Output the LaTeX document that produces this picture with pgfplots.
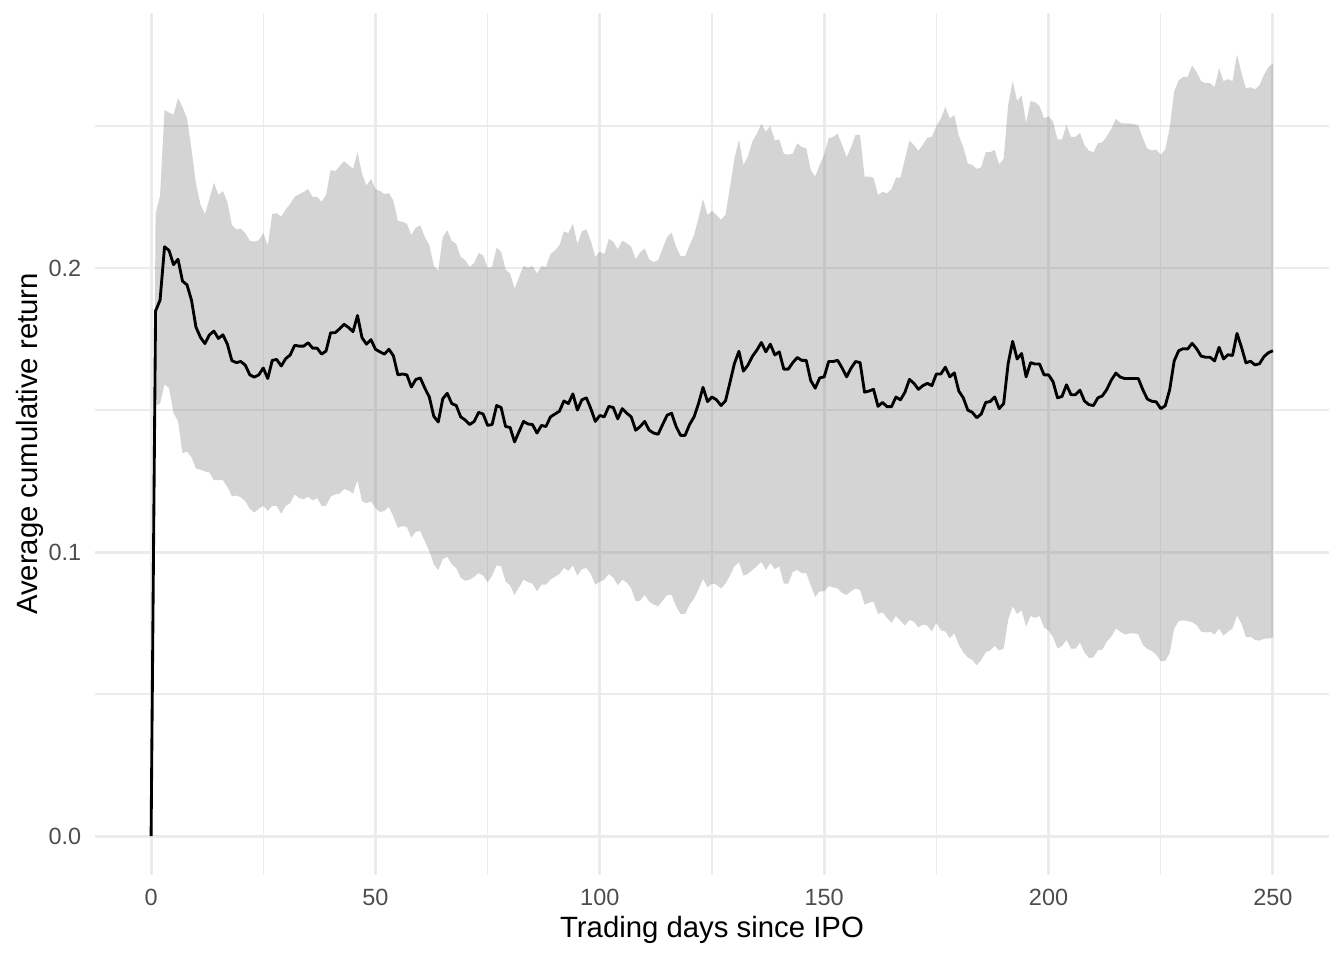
\documentclass[border=0pt]{standalone}
\usepackage{fontspec}
\setmainfont{Liberation Sans}
\usepackage{pgfplots}
\pgfplotsset{compat=1.18}
\usepackage{pgfplotstable}
\usepgfplotslibrary{fillbetween}
\definecolor{grey92}{HTML}{EBEBEB}
\definecolor{grey30}{HTML}{4D4D4D}
\pgfplotstableread{
d m u l
0 0 0 0
1 0.1849 0.2190 0.1516
2 0.1887 0.2257 0.1523
3 0.2075 0.2557 0.1590
4 0.2062 0.2547 0.1577
5 0.2012 0.2540 0.1489
6 0.2031 0.2598 0.1462
7 0.1954 0.2567 0.1348
8 0.1941 0.2527 0.1354
9 0.1887 0.2419 0.1334
10 0.1792 0.2298 0.1294
11 0.1756 0.2224 0.1290
12 0.1734 0.2190 0.1284
13 0.1765 0.2244 0.1280
14 0.1778 0.2301 0.1253
15 0.1752 0.2257 0.1253
16 0.1765 0.2271 0.1253
17 0.1732 0.2233 0.1230
18 0.1674 0.2152 0.1197
19 0.1667 0.2136 0.1199
20 0.1671 0.2139 0.1193
21 0.1658 0.2123 0.1179
22 0.1624 0.2096 0.1152
23 0.1616 0.2093 0.1139
24 0.1624 0.2098 0.1152
25 0.1648 0.2123 0.1163
26 0.1611 0.2079 0.1145
27 0.1675 0.2190 0.1163
28 0.1678 0.2193 0.1163
29 0.1655 0.2181 0.1135
30 0.1681 0.2206 0.1163
31 0.1694 0.2226 0.1172
32 0.1728 0.2251 0.1203
33 0.1725 0.2260 0.1190
34 0.1725 0.2268 0.1186
35 0.1737 0.2278 0.1195
36 0.1718 0.2251 0.1182
37 0.1718 0.2251 0.1190
38 0.1697 0.2233 0.1163
39 0.1708 0.2257 0.1163
40 0.1772 0.2345 0.1195
41 0.1772 0.2341 0.1203
42 0.1786 0.2358 0.1206
43 0.1802 0.2376 0.1222
44 0.1791 0.2363 0.1217
45 0.1776 0.2349 0.1206
46 0.1833 0.2408 0.1253
47 0.1755 0.2332 0.1179
48 0.1732 0.2291 0.1172
49 0.1748 0.2314 0.1179
50 0.1714 0.2278 0.1155
51 0.1705 0.2271 0.1141
52 0.1697 0.2260 0.1145
53 0.1714 0.2264 0.1159
54 0.1691 0.2237 0.1125
55 0.1624 0.2166 0.1085
56 0.1627 0.2163 0.1092
57 0.1624 0.2156 0.1088
58 0.1581 0.2116 0.1051
59 0.1608 0.2143 0.1072
60 0.1613 0.2150 0.1074
61 0.1577 0.2109 0.1038
62 0.1546 0.2082 0.1004
63 0.1478 0.2008 0.0957
64 0.1458 0.1991 0.0937
65 0.1540 0.2109 0.0975
66 0.1559 0.2133 0.0984
67 0.1523 0.2096 0.0957
68 0.1516 0.2085 0.0944
69 0.1476 0.2039 0.0910
70 0.1465 0.2028 0.0899
71 0.1449 0.2004 0.0903
72 0.1460 0.2018 0.0913
73 0.1492 0.2053 0.0926
74 0.1486 0.2044 0.0917
75 0.1446 0.2001 0.0894
76 0.1449 0.2004 0.0917
77 0.1516 0.2071 0.0953
78 0.1509 0.2058 0.0950
79 0.1442 0.1995 0.0896
80 0.1439 0.1981 0.0883
81 0.1388 0.1927 0.0849
82 0.1424 0.1968 0.0876
83 0.1460 0.2008 0.0903
84 0.1451 0.2001 0.0894
85 0.1449 0.2007 0.0889
86 0.1419 0.1981 0.0862
87 0.1446 0.2007 0.0885
88 0.1442 0.2004 0.0885
89 0.1476 0.2049 0.0903
90 0.1486 0.2062 0.0913
91 0.1496 0.2080 0.0923
92 0.1532 0.2129 0.0944
93 0.1523 0.2123 0.0934
94 0.1557 0.2156 0.0953
95 0.1500 0.2085 0.0917
96 0.1536 0.2129 0.0940
97 0.1543 0.2136 0.0944
98 0.1505 0.2096 0.0923
99 0.1460 0.2039 0.0885
100 0.1481 0.2058 0.0896
101 0.1476 0.2049 0.0903
102 0.1513 0.2103 0.0923
103 0.1509 0.2093 0.0910
104 0.1469 0.2066 0.0883
105 0.1505 0.2096 0.0903
106 0.1489 0.2087 0.0893
107 0.1476 0.2075 0.0872
108 0.1429 0.2031 0.0826
109 0.1442 0.2055 0.0829
110 0.1460 0.2069 0.0849
111 0.1429 0.2031 0.0826
112 0.1419 0.2021 0.0815
113 0.1415 0.2028 0.0809
114 0.1449 0.2069 0.0829
115 0.1482 0.2109 0.0849
116 0.1489 0.2125 0.0849
117 0.1442 0.2075 0.0809
118 0.1411 0.2042 0.0782
119 0.1411 0.2042 0.0782
120 0.1449 0.2080 0.0815
121 0.1476 0.2116 0.0836
122 0.1523 0.2177 0.0869
123 0.1580 0.2244 0.0906
124 0.1530 0.2187 0.0876
125 0.1546 0.2201 0.0889
126 0.1536 0.2187 0.0885
127 0.1516 0.2170 0.0872
128 0.1532 0.2187 0.0889
129 0.1597 0.2284 0.0917
130 0.1664 0.2385 0.0950
131 0.1707 0.2453 0.0964
132 0.1637 0.2363 0.0917
133 0.1658 0.2392 0.0923
134 0.1689 0.2446 0.0937
135 0.1711 0.2473 0.0950
136 0.1738 0.2507 0.0966
137 0.1705 0.2480 0.0937
138 0.1732 0.2500 0.0961
139 0.1694 0.2449 0.0940
140 0.1705 0.2453 0.0950
141 0.1644 0.2403 0.0889
142 0.1644 0.2399 0.0889
143 0.1667 0.2403 0.0930
144 0.1685 0.2439 0.0937
145 0.1675 0.2426 0.0926
146 0.1675 0.2422 0.0926
147 0.1604 0.2345 0.0883
148 0.1577 0.2322 0.0842
149 0.1613 0.2363 0.0862
150 0.1617 0.2399 0.0862
151 0.1671 0.2457 0.0880
152 0.1671 0.2462 0.0876
153 0.1675 0.2473 0.0872
154 0.1648 0.2433 0.0856
155 0.1617 0.2390 0.0849
156 0.1648 0.2426 0.0862
157 0.1671 0.2469 0.0872
158 0.1667 0.2469 0.0866
159 0.1563 0.2322 0.0815
160 0.1567 0.2322 0.0822
161 0.1573 0.2318 0.0826
162 0.1513 0.2257 0.0782
163 0.1527 0.2268 0.0788
164 0.1512 0.2263 0.0768
165 0.1512 0.2278 0.0751
166 0.1546 0.2318 0.0775
167 0.1536 0.2318 0.0759
168 0.1563 0.2385 0.0741
169 0.1608 0.2449 0.0761
170 0.1594 0.2433 0.0755
171 0.1573 0.2413 0.0735
172 0.1586 0.2435 0.0745
173 0.1594 0.2459 0.0741
174 0.1586 0.2462 0.0721
175 0.1627 0.2500 0.0751
176 0.1627 0.2527 0.0724
177 0.1651 0.2567 0.0721
178 0.1617 0.2527 0.0697
179 0.1631 0.2538 0.0714
180 0.1567 0.2466 0.0674
181 0.1543 0.2426 0.0647
182 0.1500 0.2368 0.0629
183 0.1492 0.2363 0.0620
184 0.1473 0.2349 0.0602
185 0.1486 0.2355 0.0620
186 0.1527 0.2408 0.0647
187 0.1530 0.2408 0.0654
188 0.1546 0.2416 0.0670
189 0.1505 0.2365 0.0654
190 0.1523 0.2385 0.0660
191 0.1664 0.2574 0.0761
192 0.1742 0.2659 0.0809
193 0.1680 0.2588 0.0782
194 0.1699 0.2608 0.0795
195 0.1617 0.2511 0.0737
196 0.1667 0.2588 0.0775
197 0.1662 0.2584 0.0768
198 0.1662 0.2570 0.0775
199 0.1624 0.2527 0.0735
200 0.1624 0.2534 0.0724
201 0.1600 0.2516 0.0701
202 0.1543 0.2453 0.0660
203 0.1548 0.2453 0.0670
204 0.1589 0.2503 0.0691
205 0.1554 0.2462 0.0660
206 0.1554 0.2462 0.0660
207 0.1570 0.2476 0.0681
208 0.1532 0.2433 0.0647
209 0.1519 0.2413 0.0627
210 0.1516 0.2408 0.0629
211 0.1543 0.2439 0.0654
212 0.1550 0.2443 0.0657
213 0.1573 0.2464 0.0685
214 0.1606 0.2490 0.0702
215 0.1630 0.2526 0.0731
216 0.1616 0.2511 0.0720
217 0.1611 0.2509 0.0710
218 0.1611 0.2509 0.0714
219 0.1611 0.2507 0.0714
220 0.1611 0.2503 0.0710
221 0.1572 0.2457 0.0674
222 0.1539 0.2421 0.0659
223 0.1531 0.2414 0.0652
224 0.1529 0.2417 0.0638
225 0.1505 0.2399 0.0616
226 0.1515 0.2417 0.0616
227 0.1572 0.2493 0.0645
228 0.1673 0.2622 0.0731
229 0.1709 0.2661 0.0757
230 0.1716 0.2673 0.0760
231 0.1715 0.2673 0.0757
232 0.1735 0.2713 0.0753
233 0.1716 0.2690 0.0743
234 0.1690 0.2658 0.0720
235 0.1686 0.2651 0.0717
236 0.1686 0.2651 0.0720
237 0.1673 0.2637 0.0710
238 0.1721 0.2704 0.0731
239 0.1680 0.2658 0.0705
240 0.1695 0.2665 0.0720
241 0.1692 0.2658 0.0731
242 0.1770 0.2752 0.0777
243 0.1721 0.2687 0.0748
244 0.1666 0.2632 0.0700
245 0.1672 0.2637 0.0702
246 0.1659 0.2629 0.0691
247 0.1663 0.2644 0.0688
248 0.1688 0.2680 0.0695
249 0.1702 0.2708 0.0695
250 0.1709 0.2720 0.0700
}\data
\begin{document}
\begin{tikzpicture}
\begin{axis}[
  scale only axis,
  width=462.75pt, height=323.25pt,
  xmin=-12.5, xmax=262.5,
  ymin=-0.0137, ymax=0.2898,
  axis x line*=bottom, axis y line*=left,
  axis line style={draw=none},
  xtick={0,50,100,150,200,250},
  xticklabels={0,50,100,150,200,250},
  minor xtick={25,75,125,175,225},
  ytick={0,0.1,0.2},
  yticklabels={0.0,0.1,0.2},
  minor ytick={0.05,0.15,0.25},
  major tick length=0pt, minor tick length=0pt,
  grid=both,
  major grid style={color=grey92, line width=1.07pt},
  minor grid style={color=grey92, line width=0.53pt},
  /pgf/number format/assume math mode=true,
  tick label style={font=\fontsize{8.8}{10}\selectfont, text=grey30},
  xticklabel style={anchor=north, inner sep=0pt, yshift=-4.95pt},
  yticklabel style={anchor=east, inner sep=0pt, xshift=-4.95pt},
  label style={font=\fontsize{11}{13}\selectfont, text=black},
  xlabel={Trading days since IPO},
  ylabel={Average cumulative return},
  xlabel style={at={(axis description cs:0.5,0)}, anchor=center, yshift=-20.6pt},
  ylabel style={at={(axis description cs:-0.0527,0.5)}, anchor=center},
  clip=true,
]
\addplot[draw=none, name path=U, forget plot] table[x=d, y=u]{\data};
\addplot[draw=none, name path=L, forget plot] table[x=d, y=l]{\data};
\addplot[fill=black!50, fill opacity=0.34, draw=none, forget plot] fill between[of=U and L];
\addplot[black, line width=1.07pt, line join=round] table[x=d, y=m]{\data};
\end{axis}
\pgfresetboundingbox
\path (-35.625pt,-31.875pt) rectangle (468.375pt,328.125pt);
\end{tikzpicture}
\end{document}
